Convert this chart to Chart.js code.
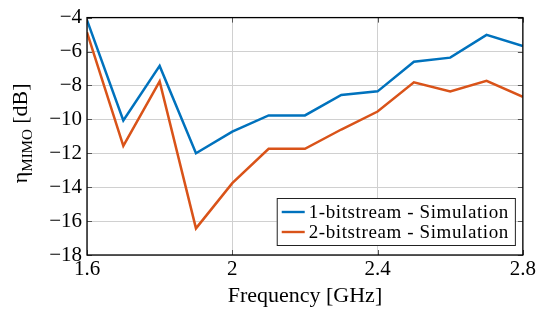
<!DOCTYPE html>
<html>
<head>
<meta charset="utf-8">
<script src="https://cdn.jsdelivr.net/npm/chart.js@4"></script>
<style>
  html, body { margin: 0; padding: 0; background: #fff; }
  #wrap { width: 538px; height: 313px; }
</style>
</head>
<body>
<div id="wrap"><canvas id="chart" width="538" height="313"></canvas></div>
<script>
// frequencies in GHz
const freqs = [1.6, 1.7, 1.8, 1.9, 2.0, 2.1, 2.2, 2.3, 2.4, 2.5, 2.6, 2.7, 2.8];
const oneBitstream = [-4.15, -10.07, -6.85, -12.0, -10.72, -9.77, -9.77, -8.56, -8.35, -6.6, -6.36, -5.02, -5.68];
const twoBitstream = [-4.87, -11.57, -7.76, -16.43, -13.76, -11.74, -11.74, -10.6, -9.54, -7.82, -8.35, -7.73, -8.67];
const seriesLabels = ['1-bitstream - Simulation', '2-bitstream - Simulation'];
const seriesColors = ['#0072BD', '#D95319'];
const xTicks = [1.6, 2, 2.4, 2.8];
const yTicks = [-18, -16, -14, -12, -10, -8, -6, -4];

const FONT = "'Liberation Serif', 'DejaVu Serif', serif";
const fmt = v => (v < 0 ? '\u2212' + Math.abs(v) : String(v));

// black frame with inward ticks, like pgfplots
const framePlugin = {
  id: 'frame',
  afterDraw(chart) {
    const { ctx, chartArea: a, scales } = chart;
    ctx.save();
    ctx.strokeStyle = '#555';
    ctx.lineWidth = 1;
    ctx.beginPath();
    xTicks.forEach(v => {
      const x = Math.round(scales.x.getPixelForValue(v)) + 0.5;
      ctx.moveTo(x, a.bottom); ctx.lineTo(x, a.bottom - 5);
      ctx.moveTo(x, a.top); ctx.lineTo(x, a.top + 5);
    });
    yTicks.forEach(v => {
      const y = Math.round(scales.y.getPixelForValue(v)) + 0.5;
      ctx.moveTo(a.left, y); ctx.lineTo(a.left + 5, y);
      ctx.moveTo(a.right, y); ctx.lineTo(a.right - 5, y);
    });
    ctx.stroke();
    ctx.strokeStyle = '#000';
    ctx.lineWidth = 1.3;
    ctx.strokeRect(a.left, a.top, a.right - a.left, a.bottom - a.top);
    ctx.restore();
  }
};

// y title with subscript
const yTitlePlugin = {
  id: 'yTitle',
  afterDraw(chart) {
    const { ctx, chartArea: a } = chart;
    const big = '22px ' + FONT, small = '15px ' + FONT;
    ctx.save();
    ctx.fillStyle = '#000';
    ctx.textBaseline = 'alphabetic';
    ctx.font = big;
    const wEta = ctx.measureText('\u03B7').width;
    const wUnit = ctx.measureText(' [dB]').width;
    ctx.font = small;
    const wSub = ctx.measureText('MIMO').width;
    const total = wEta + wSub + wUnit;
    const cy = (a.top + a.bottom) / 2 - 3;
    ctx.translate(27, cy);
    ctx.rotate(-Math.PI / 2);
    let x = -total / 2;
    ctx.font = big;
    ctx.fillText('\u03B7', x, 0);
    x += wEta;
    ctx.font = small;
    ctx.fillText('MIMO', x, 5);
    x += wSub;
    ctx.font = big;
    ctx.fillText(' [dB]', x, 0);
    ctx.restore();
  }
};

// legend box in lower right of plot area
const legendPlugin = {
  id: 'boxLegend',
  afterDraw(chart) {
    const { ctx, chartArea: a } = chart;
    ctx.save();
    ctx.font = '19px ' + FONT;
    ctx.letterSpacing = '0.6px';
    const textW = Math.max(...chart.data.datasets.map(d => ctx.measureText(d.label).width));
    const boxW = 5 + 23 + 4 + textW + 6;
    const boxH = 47;
    const bx = a.right - 8 - boxW, by = a.bottom - 10 - boxH;
    ctx.fillStyle = '#fff';
    ctx.fillRect(bx, by, boxW, boxH);
    ctx.strokeStyle = '#222';
    ctx.lineWidth = 1;
    ctx.strokeRect(bx + 0.5, by + 0.5, boxW, boxH);
    chart.data.datasets.forEach((d, i) => {
      const y = by + 14 + i * 20;
      ctx.strokeStyle = d.borderColor;
      ctx.lineWidth = 2.4;
      ctx.beginPath();
      ctx.moveTo(bx + 5, y); ctx.lineTo(bx + 28, y);
      ctx.stroke();
      ctx.fillStyle = '#000';
      ctx.textBaseline = 'middle';
      ctx.fillText(d.label, bx + 32, y + 1);
    });
    ctx.restore();
  }
};

const datasets = [oneBitstream, twoBitstream].map((vals, i) => ({
  label: seriesLabels[i],
  data: freqs.map((f, j) => ({ x: f, y: vals[j] })),
  borderColor: seriesColors[i],
  backgroundColor: seriesColors[i],
  borderWidth: 2.5,
  pointRadius: 0,
  tension: 0,
  fill: false
}));

new Chart(document.getElementById('chart'), {
  type: 'line',
  data: { datasets },
  options: {
    responsive: false,
    animation: false,
    layout: { padding: { top: 13, right: 14, left: 0, bottom: 0 } },
    plugins: { legend: { display: false }, tooltip: { enabled: false } },
    scales: {
      x: {
        type: 'linear',
        min: 1.6, max: 2.8,
        afterBuildTicks: s => { s.ticks = xTicks.map(v => ({ value: v })); },
        afterFit: s => { s.height = 58; },
        ticks: {
          callback: v => fmt(Number(v.toFixed(1))),
          font: { family: FONT, size: 21 },
          color: '#000',
          padding: 2,
          maxRotation: 0
        },
        grid: { color: '#d0d0d0', drawTicks: false },
        border: { display: false },
        title: {
          display: true,
          text: 'Frequency [GHz]',
          font: { family: FONT, size: 22 },
          color: '#000',
          padding: { top: 0 }
        }
      },
      y: {
        min: -18, max: -4,
        afterBuildTicks: s => { s.ticks = yTicks.map(v => ({ value: v })); },
        afterFit: s => { s.width = 87; },
        ticks: {
          callback: v => fmt(v),
          font: { family: FONT, size: 21 },
          color: '#000',
          padding: 5
        },
        grid: { color: '#d0d0d0', drawTicks: false },
        border: { display: false }
      }
    }
  },
  plugins: [framePlugin, yTitlePlugin, legendPlugin]
});
</script>
</body>
</html>
